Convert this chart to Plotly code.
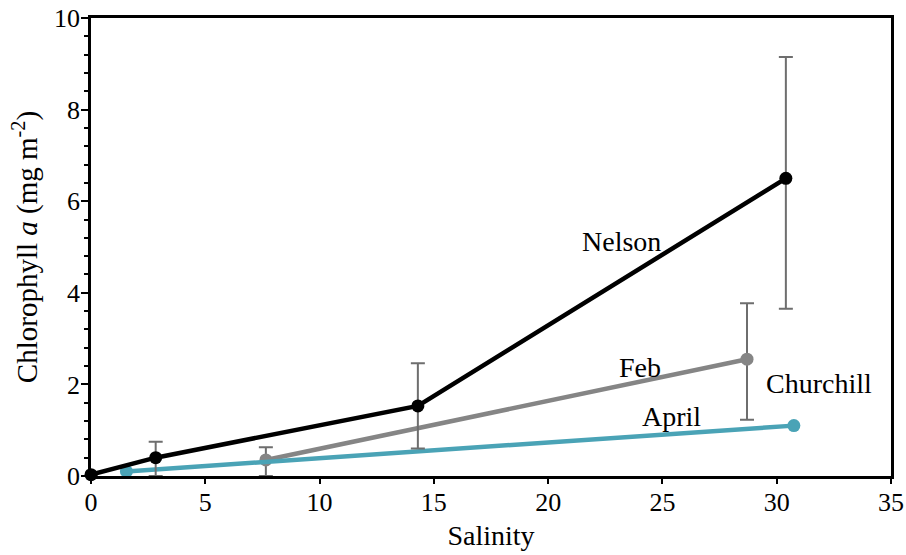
import plotly.graph_objects as go

# Chlorophyll a vs salinity
nelson_x = [0.0, 2.83, 14.3, 30.4]
nelson_y = [0.03, 0.40, 1.53, 6.50]
nelson_err_plus = [None, 0.35, 0.93, 2.65]
nelson_err_minus = [None, 0.40, 0.93, 2.85]

feb_x = [7.65, 28.7]
feb_y = [0.35, 2.55]
feb_err_plus = [0.28, 1.22]
feb_err_minus = [0.35, 1.32]

april_x = [1.55, 30.75]
april_y = [0.10, 1.10]

x_ticks = [0, 5, 10, 15, 20, 25, 30, 35]
y_ticks = [0, 2, 4, 6, 8, 10]

series_labels = ["Nelson", "Feb", "April", "Churchill"]
label_x = [23.2, 24.0, 25.4, 31.85]
label_y = [5.13, 2.36, 1.31, 2.01]

FONT = "Liberation Serif, Times New Roman, serif"
ERR_COLOR = "#6e6e6e"

fig = go.Figure()

fig.add_trace(go.Scatter(
    x=feb_x, y=feb_y, mode="lines+markers",
    line=dict(color="#858585", width=4.5),
    marker=dict(color="#858585", size=13),
    error_y=dict(type="data", array=feb_err_plus, arrayminus=feb_err_minus,
                 color=ERR_COLOR, thickness=2, width=7),
    showlegend=False,
))

fig.add_trace(go.Scatter(
    x=april_x, y=april_y, mode="lines+markers",
    line=dict(color="#4aa3b6", width=4.5),
    marker=dict(color="#4aa3b6", size=13),
    showlegend=False,
))

fig.add_trace(go.Scatter(
    x=nelson_x, y=nelson_y, mode="lines+markers",
    line=dict(color="#000000", width=4.5),
    marker=dict(color="#000000", size=13),
    error_y=dict(type="data", array=nelson_err_plus, arrayminus=nelson_err_minus,
                 color=ERR_COLOR, thickness=2, width=7),
    showlegend=False, cliponaxis=False,
))

for txt, lx, ly in zip(series_labels, label_x, label_y):
    fig.add_annotation(x=lx, y=ly, text=txt, showarrow=False,
                       font=dict(family=FONT, size=28, color="#000000"))

fig.update_layout(
    width=906, height=555,
    margin=dict(l=91, r=15, t=18, b=79),
    paper_bgcolor="white", plot_bgcolor="white",
    font=dict(family=FONT, size=26, color="#000000"),
)

fig.update_xaxes(
    range=[0, 35], tickvals=x_ticks, ticks="outside", ticklen=5, tickwidth=2,
    tickcolor="#000000", showline=True, linewidth=2.5, linecolor="#000000",
    mirror=True, showgrid=False, zeroline=False, automargin=False,
    tickfont=dict(family=FONT, size=26), ticklabelstandoff=-4,
    title=dict(text="Salinity", font=dict(family=FONT, size=28), standoff=10),
)
fig.update_yaxes(
    range=[0, 10], tickvals=y_ticks, ticks="outside", ticklen=7, tickwidth=2,
    tickcolor="#000000", showline=True, linewidth=2.5, linecolor="#000000",
    mirror=True, showgrid=False, zeroline=False, automargin=False,
    tickfont=dict(family=FONT, size=26), ticklabelstandoff=-4,
    minor=dict(dtick=0.4, ticks="outside", ticklen=4, tickwidth=2,
               tickcolor="#000000", showgrid=False),
    title=dict(text="Chlorophyll <i>a</i> (mg m<sup>-2</sup>)",
               font=dict(family=FONT, size=29), standoff=8),
)

fig.write_html("out.html")
